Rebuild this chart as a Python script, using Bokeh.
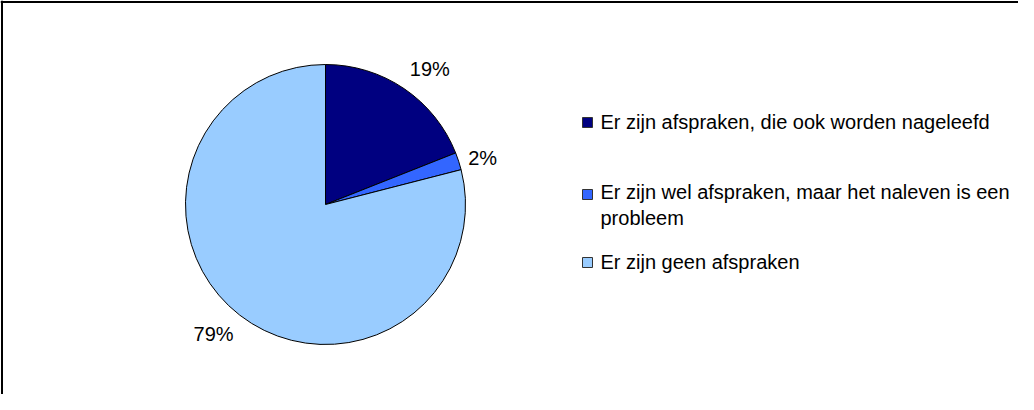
import math
from bokeh.plotting import figure
from bokeh.models import Range1d, Span
from bokeh.core.properties import value
from bokeh.embed import file_html
from bokeh.resources import INLINE

# ---- data ----
categories = [
    "Er zijn afspraken, die ook worden nageleefd",
    "Er zijn wel afspraken, maar het naleven is een\nprobleem",
    "Er zijn geen afspraken",
]
shares = [19, 2, 79]
pct_labels = ["19%", "2%", "79%"]
colors = ["#000080", "#3366FF", "#99CCFF"]

W, H = 1018, 394
FONT = value("Liberation Sans")

p = figure(width=W, height=H, output_backend="svg", toolbar_location=None,
           x_range=Range1d(0, W), y_range=Range1d(0, H), min_border=0)
p.axis.visible = False
p.grid.visible = False
p.outline_line_color = None
p.background_fill_color = "white"
p.border_fill_color = "white"

# frame (only top and left edges visible)
p.add_layout(Span(location=H - 1.5, dimension="width", line_color="black", line_width=2))
p.add_layout(Span(location=1.5, dimension="height", line_color="black", line_width=2))

# ---- pie ----
cx, cy, r = 325, 190, 140
total = sum(shares)
cum = 0.0
starts, ends, mids = [], [], []
for s in shares:
    a0 = cum / total
    cum += s
    a1 = cum / total
    # clockwise from 12 o'clock -> bokeh anticlockwise angles
    starts.append(math.pi / 2 - 2 * math.pi * a1)
    ends.append(math.pi / 2 - 2 * math.pi * a0)
    mids.append(math.pi / 2 - 2 * math.pi * (a0 + a1) / 2)

p.wedge(x=[cx] * 3, y=[cy] * 3, radius=r, start_angle=starts, end_angle=ends,
        fill_color=colors, line_color="black", line_width=1, direction="anticlock")

# percentage labels outside end
lr = r + 10
for lab, m in zip(pct_labels, mids):
    lx = cx + lr * math.cos(m)
    ly = cy + lr * math.sin(m)
    c, s_ = math.cos(m), math.sin(m)
    align = "left" if c > 0.25 else ("right" if c < -0.25 else "center")
    base = "bottom" if s_ > 0.5 else ("top" if s_ < -0.5 else "middle")
    p.text(x=[lx], y=[ly], text=[lab], text_font=FONT, text_font_size="20px",
           text_align=align, text_baseline=base, text_color="black")

# ---- legend ----
leg_x = 587
leg_y = [273, 189.5, 133]
p.rect(x=[leg_x] * 3, y=[272, 200, 132], width=10, height=10,
       fill_color=colors, line_color="#333333", line_width=1)
p.text(x=[leg_x + 13] * 3, y=leg_y, text=categories, text_font=FONT,
       text_font_size="20px", text_align="left", text_baseline="middle",
       text_color="black", text_line_height=1.15)

open("out.html", "w").write(file_html(p, INLINE))
